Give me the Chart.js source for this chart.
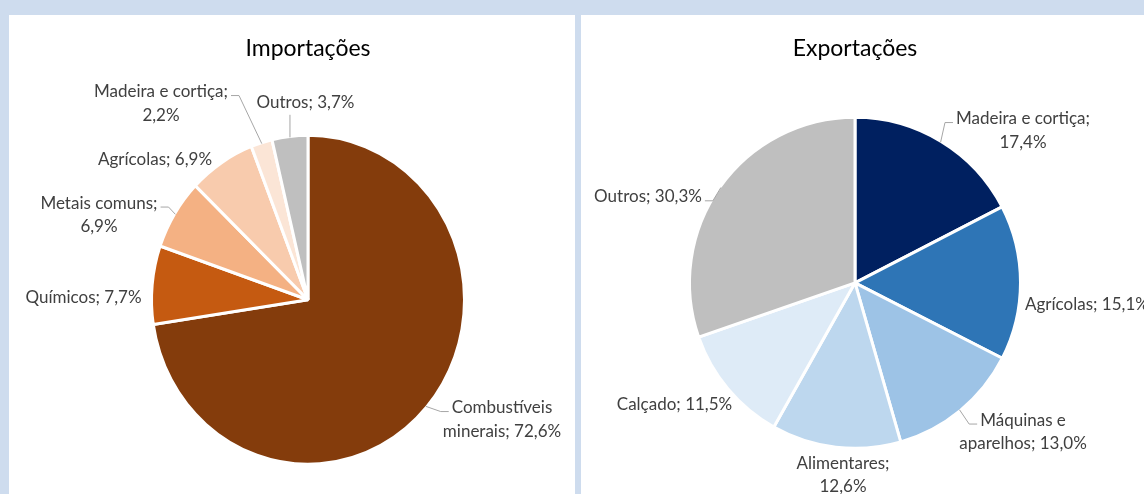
<!DOCTYPE html>
<html>
<head>
<meta charset="utf-8">
<script src="https://cdn.jsdelivr.net/npm/chart.js@4"></script>
<style>
  html, body { margin: 0; padding: 0; }
  body { width: 1144px; height: 494px; background: #cedcee; position: relative; overflow: hidden; }
  .panel { position: absolute; top: 15px; height: 479px; background: #fff; }
  #p1 { left: 9px; width: 566px; }
  #p2 { left: 581px; width: 563px; }
</style>
</head>
<body>
<div class="panel" id="p1"><canvas id="importChart" width="566" height="479"></canvas></div>
<div class="panel" id="p2"><canvas id="exportChart" width="563" height="479"></canvas></div>
<script>
// dados (%)
const importLabels = ['Combustíveis minerais', 'Químicos', 'Metais comuns', 'Agrícolas', 'Madeira e cortiça', 'Outros'];
const importValues = [72.6, 7.7, 6.9, 6.9, 2.2, 3.7];
const importColors = ['#843c0c', '#c55a11', '#f4b183', '#f8cbad', '#fbe5d6', '#bfbfbf'];

const exportLabels = ['Madeira e cortiça', 'Agrícolas', 'Máquinas e aparelhos', 'Alimentares', 'Calçado', 'Outros'];
const exportValues = [17.4, 15.1, 13.0, 12.6, 11.5, 30.3];
const exportColors = ['#002060', '#2e75b6', '#9dc3e6', '#bdd7ee', '#deebf7', '#bfbfbf'];

// onde fica cada rótulo, relativo ao centro da pizza (como no Excel)
const importPlacement = [
  { at: [194, 119.5], brk: 1, leader: 'left' },
  { at: [-224.5, -2] },
  { at: [-209, -85], brk: 2, leader: 'right' },
  { at: [-153, -140] },
  { at: [-147, -196.5], brk: 3, leader: 'right' },
  { at: [-2.5, -197], leader: 'bottom' }
];
const exportPlacement = [
  { at: [168, -152.5], brk: 3, leader: 'left' },
  { at: [170, 22], align: 'left' },
  { at: [168, 149], brk: 2, leader: 'left' },
  { at: [-12, 192], brk: 1 },
  { at: [-180.5, 122] },
  { at: [-207, -86], leader: 'right' }
];

const LINE_H = 23.5;

const sliceLabels = {
  id: 'sliceLabels',
  beforeDatasetsDraw(chart, args, opts) {
    const arc = chart.getDatasetMeta(0).data[0];
    const ctx = chart.ctx;
    ctx.save();
    const sy = opts.stretchY || 1;
    if (sy !== 1) {
      ctx.translate(arc.x, arc.y);
      ctx.scale(1, sy);
      ctx.translate(-arc.x, -arc.y);
    }
  },
  afterDatasetsDraw(chart, args, opts) {
    const ctx = chart.ctx;
    ctx.restore();
    const meta = chart.getDatasetMeta(0);
    const values = chart.data.datasets[0].data;
    const names = chart.data.labels;
    const sy = opts.stretchY || 1;

    ctx.save();
    ctx.font = '17px Lato';
    ctx.textBaseline = 'middle';
    meta.data.forEach((arc, i) => {
      const p = opts.placement[i];
      const words = (names[i] + ';').split(' ');
      const pct = values[i].toFixed(1).replace('.', ',') + '%';
      const lines = p.brk
        ? [words.slice(0, p.brk).join(' '), words.slice(p.brk).concat(pct).join(' ')]
        : [words.concat(pct).join(' ')];

      const cx = arc.x + p.at[0];
      const cy = arc.y + p.at[1];
      const align = p.align || 'center';
      const n = lines.length;
      const ys = lines.map((_, k) => cy + (k - (n - 1) / 2) * LINE_H);

      ctx.fillStyle = '#404040';
      ctx.textAlign = align;
      lines.forEach((t, k) => ctx.fillText(t, cx, ys[k]));

      if (p.leader) {
        const mid = (arc.startAngle + arc.endAngle) / 2;
        const r = arc.outerRadius - 1;
        const px = arc.x + r * Math.cos(mid);
        const py = arc.y + r * Math.sin(mid) * sy;
        const w1 = ctx.measureText(lines[0]).width;
        const left1 = align === 'left' ? cx : cx - w1 / 2;
        const right1 = align === 'left' ? cx + w1 : cx + w1 / 2;
        ctx.strokeStyle = '#a6a6a6';
        ctx.lineWidth = 1;
        ctx.beginPath();
        ctx.moveTo(px, py);
        if (p.leader === 'left') {
          const ey = ys[0] + 4;
          ctx.lineTo(left1 - 11, ey);
          ctx.lineTo(left1 - 3, ey);
        } else if (p.leader === 'right') {
          const ey = ys[0] + 4;
          ctx.lineTo(right1 + 11, ey);
          ctx.lineTo(right1 + 3, ey);
        } else {
          ctx.lineTo(px, ys[n - 1] + 12);
        }
        ctx.stroke();
      }
    });
    ctx.restore();
  }
};

function pieOptions(title, padding, titlePad, labelOpts) {
  return {
    responsive: false,
    animation: false,
    events: [],
    layout: { padding: padding },
    plugins: {
      legend: { display: false },
      tooltip: { enabled: false },
      title: {
        display: true,
        text: title,
        color: '#000',
        font: { family: 'Lato', size: 23, weight: 'normal' },
        padding: titlePad
      },
      sliceLabels: labelOpts
    }
  };
}

new Chart(document.getElementById('importChart'), {
  type: 'pie',
  data: {
    labels: importLabels,
    datasets: [{
      data: importValues,
      backgroundColor: importColors,
      borderColor: '#fff',
      borderWidth: 3,
      radius: 156.5
    }]
  },
  options: pieOptions('Importações',
    { left: 32, right: 0, top: 0, bottom: 0 },
    { top: 20, bottom: 43 },
    { stretchY: 163 / 155, placement: importPlacement }),
  plugins: [sliceLabels]
});

new Chart(document.getElementById('exportChart'), {
  type: 'pie',
  data: {
    labels: exportLabels,
    datasets: [{
      data: exportValues,
      backgroundColor: exportColors,
      borderColor: '#fff',
      borderWidth: 3,
      radius: 165.5
    }]
  },
  options: pieOptions('Exportações',
    { left: 0, right: 15, top: 0, bottom: 0 },
    { top: 20, bottom: 9 },
    { stretchY: 1, placement: exportPlacement }),
  plugins: [sliceLabels]
});
</script>
</body>
</html>
